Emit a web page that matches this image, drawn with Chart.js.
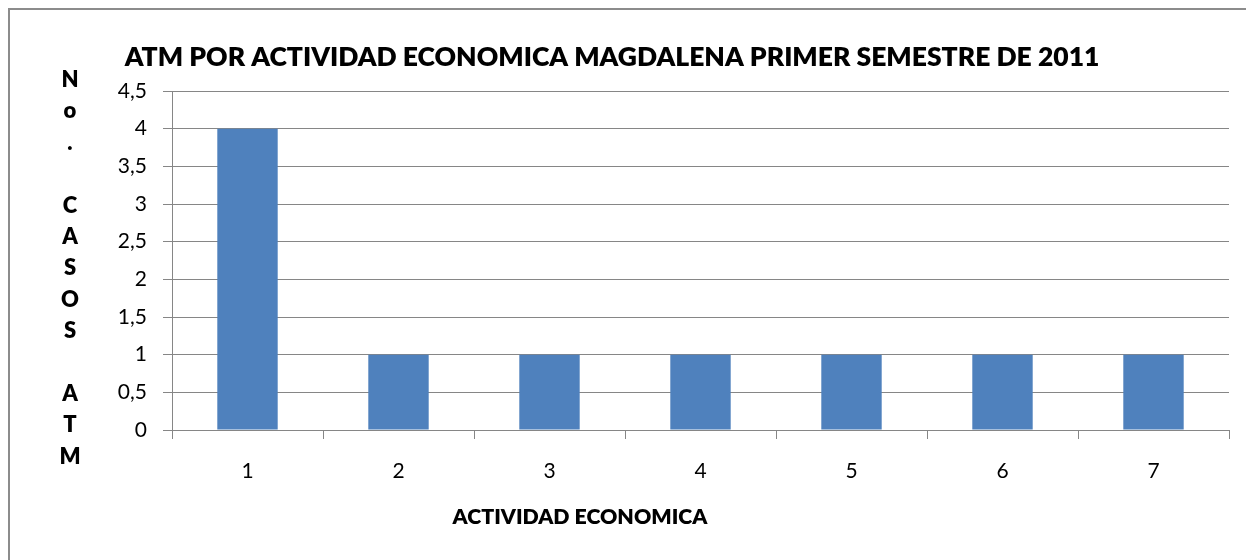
<!DOCTYPE html>
<html>
<head>
<meta charset="utf-8">
<script src="https://cdn.jsdelivr.net/npm/chart.js@4.4.1/dist/chart.umd.min.js"></script>
<style>
html,body{margin:0;padding:0;background:#fff;}
#wrap{width:1246px;height:560px;position:relative;}
</style>
</head>
<body>
<div id="wrap"><canvas id="c" width="1246" height="560"></canvas></div>
<script>
const categories = ['1','2','3','4','5','6','7'];
const casos = [4,1,1,1,1,1,1];
const yTickValues = [0,0.5,1,1.5,2,2.5,3,3.5,4,4.5];
const titleText = 'ATM POR ACTIVIDAD ECONOMICA MAGDALENA PRIMER SEMESTRE DE 2011';
const xTitleText = 'ACTIVIDAD ECONOMICA';
const yTitleLetters = ['N','o','.','','C','A','S','O','S','','A','T','M'];

const FONT = 'Lato, "Open Sans", sans-serif';
const GRID = '#868686';
const HEAVY = '800';

function fitText(ctx, text, weight, targetWidth, x, y) {
  ctx.font = weight + ' 20px ' + FONT;
  const w = ctx.measureText(text).width;
  const size = 20 * targetWidth / w;
  ctx.font = weight + ' ' + size.toFixed(2) + 'px ' + FONT;
  ctx.fillText(text, x, y);
}

const decor = {
  id: 'decor',
  beforeDraw(chart) {
    const ctx = chart.ctx;
    ctx.save();
    ctx.fillStyle = '#fff';
    ctx.fillRect(0,0,chart.width,chart.height);
    ctx.strokeStyle = '#8c8c8c';
    ctx.lineWidth = 2;
    ctx.strokeRect(9,9,1260,580);
    ctx.restore();
  },
  afterDraw(chart) {
    const ctx = chart.ctx;
    ctx.save();
    ctx.fillStyle = '#000';
    ctx.textAlign = 'center';
    ctx.textBaseline = 'middle';
    fitText(ctx, titleText, HEAVY, 975, 612, 57);
    fitText(ctx, xTitleText, HEAVY, 255, 580, 517);
    ctx.font = HEAVY + ' 22px ' + FONT;
    yTitleLetters.forEach((l,i) => {
      if (l) ctx.fillText(l, 70, 80 + i*31.4);
    });
    ctx.restore();
  }
};

new Chart(document.getElementById('c'), {
  type: 'bar',
  data: {
    labels: categories,
    datasets: [{
      data: casos,
      backgroundColor: '#4F81BD',
      borderWidth: 0,
      categoryPercentage: 1,
      barPercentage: 0.4
    }]
  },
  options: {
    responsive: false,
    animation: false,
    devicePixelRatio: 1,
    layout: { padding: { left: 0, right: 17, top: 91, bottom: 0 } },
    plugins: { legend: { display: false }, title: { display: false }, tooltip: { enabled: false } },
    scales: {
      x: {
        afterFit(s) { s.height = 130; },
        grid: { display: true, drawOnChartArea: false, drawTicks: true, tickLength: 9, color: GRID, offset: true },
        border: { display: true, color: GRID, width: 1 },
        ticks: { color: '#000', font: { family: FONT, size: 21 }, padding: 20 }
      },
      y: {
        min: 0, max: 4.5,
        afterFit(s) { s.width = 172; },
        afterBuildTicks(s) { s.ticks = yTickValues.map(v => ({ value: v })); },
        grid: { color: GRID, tickLength: 9, drawTicks: true },
        border: { display: true, color: GRID, width: 1 },
        ticks: {
          color: '#000', font: { family: FONT, size: 21 }, padding: 16,
          callback: v => String(v).replace('.', ',')
        }
      }
    }
  },
  plugins: [decor]
});
</script>
</body>
</html>
